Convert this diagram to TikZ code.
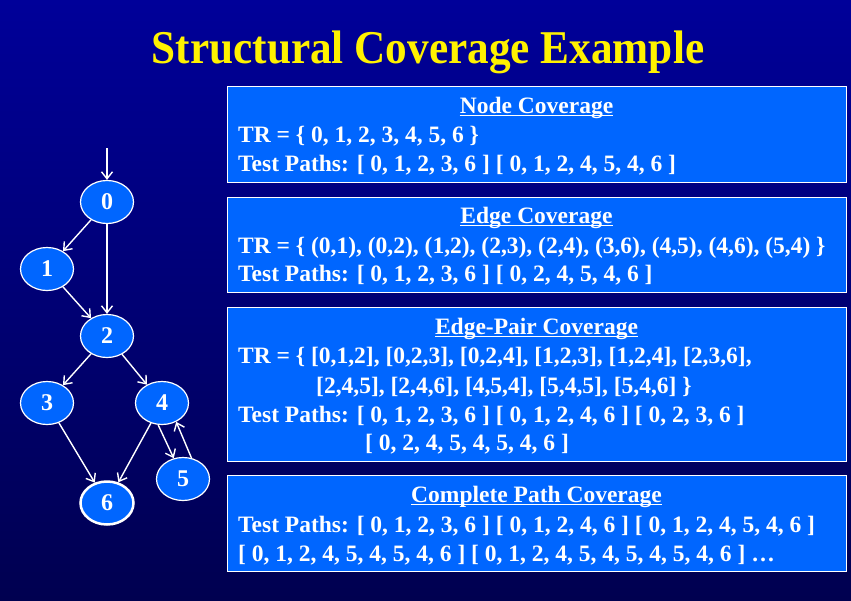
\documentclass[tikz,border=0pt]{standalone}
\usepackage{fontspec}
\setmainfont{Liberation Serif}
\usetikzlibrary{positioning,shapes.geometric,arrows.meta}

\definecolor{bgtop}{HTML}{000099}
\definecolor{bgbot}{HTML}{000050}
\definecolor{nodeblue}{HTML}{0066FF}

\begin{document}
\begin{tikzpicture}
    [
    x=1pt, y=-1pt,
    vert/.style={ellipse, draw=white, fill=nodeblue, line width=1.2pt, minimum width=53pt, minimum height=43pt, inner sep=0pt, text=white, font=\fontsize{24}{28}\selectfont\bfseries},
    panel/.style={draw=white, fill=nodeblue, line width=1pt, minimum width=619pt, inner sep=0pt},
    txt/.style={inner sep=0pt, text=white, anchor=base west, font=\fontsize{23.5}{28}\selectfont\bfseries},
    head/.style={txt, anchor=base},
    link/.style={draw=white, line width=1.4pt, ->},
    uline/.style={draw=white, line width=1pt},
    >={Straight Barb[length=7pt, width=11pt]}
    ]

    % Fondo
    \shade [top color=bgtop, bottom color=bgbot] (0,0) rectangle (851,600);
    \node [inner sep=0pt, anchor=base, text=yellow, font=\fontsize{47}{52}\selectfont\bfseries] (title) at (428,63) {\scalebox{0.92}[1]{Structural Coverage Example}};

    % Grafo
    \node [vert] (n0) at (107,202) {0};
    \node [vert, on grid, below left=67pt and 60pt of n0] (n1) {1};
    \node [vert, on grid, below=134pt of n0] (n2) {2};
    \node [vert, on grid, below left=67pt and 60pt of n2] (n3) {3};
    \node [vert, on grid, below right=67pt and 55pt of n2] (n4) {4};
    \node [vert, on grid, below right=76pt and 21pt of n4] (n5) {5};
    \node [vert, on grid, below=167pt of n2, line width=2.5pt] (n6) {6};
    \coordinate [above=54pt of n0.center] (entry);
    \draw [link] (entry) -- (n0);
    \draw [link] (n0) -- (n1);
    \draw [link] (n0) -- (n2);
    \draw [link] (n1) -- (n2);
    \draw [link] (n2) -- (n3);
    \draw [link] (n2) -- (n4);
    \draw [link] (n3) -- (n6);
    \draw [link] (n4) -- (n6);
    \draw [link] (n4.-100) -- (n5.114);
    \draw [link] (n5.68) -- (n4.-53);

    % Cajas
    \node [panel, minimum height=96pt] (bnode) at (536.5,134) {};
    \node [panel, minimum height=95pt] (bedge) at (536.5,244.5) {};
    \node [panel, minimum height=154pt] (bpair) at (536.5,384) {};
    \node [panel, minimum height=96pt] (bpath) at (536.5,523) {};

    % Node Coverage
    \node [head] (hnode) at (536.5,113) {Node Coverage};
    \node [txt] (trnode) at (238,142) {TR = \{ 0, 1, 2, 3, 4, 5, 6 \}};
    \node [txt] (tpnode) at (238,171) {Test Paths: [ 0, 1, 2, 3, 6 ] [ 0, 1, 2, 4, 5, 4, 6 ]};
    % Edge Coverage
    \node [head] (hedge) at (536.5,223) {Edge Coverage};
    \node [txt] (tredge) at (238,253) {TR = \{ (0,1), (0,2), (1,2), (2,3), (2,4), (3,6), (4,5), (4,6), (5,4) \}};
    \node [txt] (tpedge) at (238,281) {Test Paths: [ 0, 1, 2, 3, 6 ] [ 0, 2, 4, 5, 4, 6 ]};
    % Edge-Pair Coverage
    \node [head] (hpair) at (536.5,334) {Edge-Pair Coverage};
    \node [txt] (trpair1) at (238,363) {TR = \{ [0,1,2], [0,2,3], [0,2,4], [1,2,3], [1,2,4], [2,3,6],};
    \node [txt] (trpair2) at (316,393) {[2,4,5], [2,4,6], [4,5,4], [5,4,5], [5,4,6] \}};
    \node [txt] (tppair1) at (238,422) {Test Paths: [ 0, 1, 2, 3, 6 ] [ 0, 1, 2, 4, 6 ] [ 0, 2, 3, 6 ]};
    \node [txt] (tppair2) at (365,450) {[ 0, 2, 4, 5, 4, 5, 4, 6 ]};
    % Complete Path Coverage
    \node [head] (hpath) at (536.5,502) {Complete Path Coverage};
    \node [txt] (tppath1) at (238,532) {Test Paths: [ 0, 1, 2, 3, 6 ] [ 0, 1, 2, 4, 6 ] [ 0, 1, 2, 4, 5, 4, 6 ]};
    \node [txt] (tppath2) at (238,561) {[ 0, 1, 2, 4, 5, 4, 5, 4, 6 ] [ 0, 1, 2, 4, 5, 4, 5, 4, 5, 4, 6 ] \ldots};

    % Subrayado de titulos
    \foreach \h in {hnode,hedge,hpair,hpath}
        \draw [uline] ([yshift=-2.5pt]\h.base west) -- ([yshift=-2.5pt]\h.base east);
\end{tikzpicture}
\end{document}
